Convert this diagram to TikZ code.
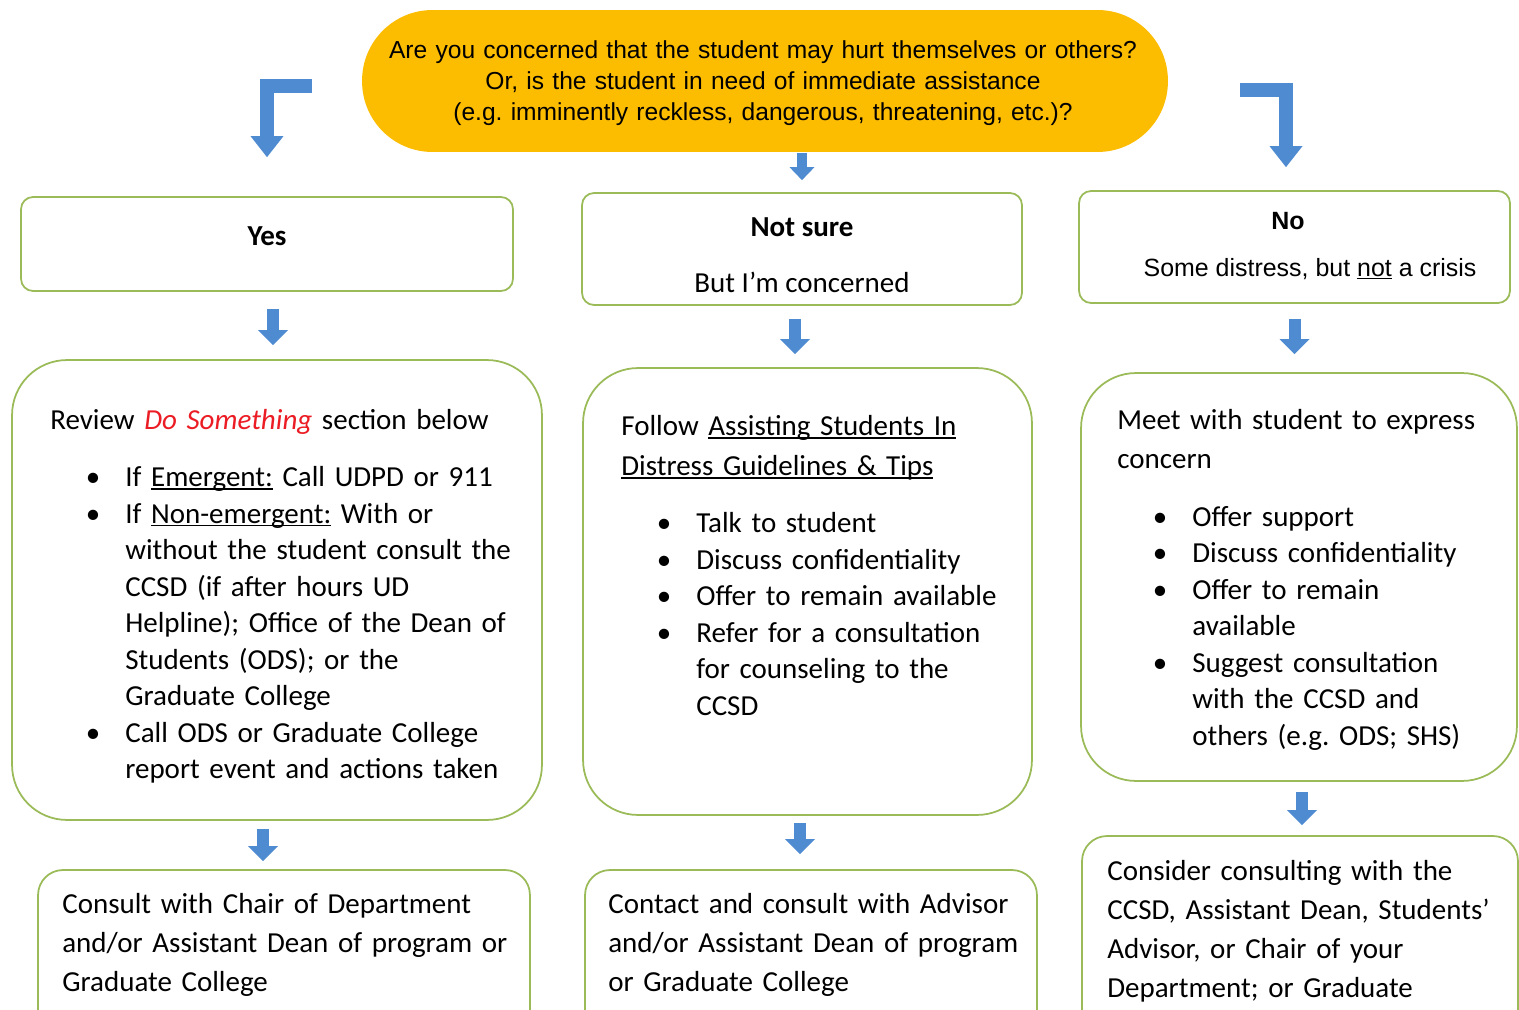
\documentclass[tikz,border=0pt]{standalone}
\usepackage{fontspec}
\setmainfont{Carlito}
\newfontfamily\arialfont{Liberation Sans}
\usepackage{tikz}
\usetikzlibrary{shapes.misc, arrows.meta}
\frenchspacing

\definecolor{boxgreen}{RGB}{155,187,89}
\definecolor{gold}{RGB}{252,188,0}
\definecolor{arrowblue}{RGB}{79,139,208}
\definecolor{dored}{RGB}{236,28,36}

% bullet list used inside the panels
\newenvironment{pointlist}{\begin{list}{\textbullet}{%
  \setlength{\leftmargin}{1.5cm}\setlength{\labelsep}{0.5cm}%
  \setlength{\labelwidth}{1cm}\setlength{\itemsep}{0pt}%
  \setlength{\parsep}{0pt}\setlength{\topsep}{0.41cm}%
  \setlength{\partopsep}{0pt}}}{\end{list}}

% underline sitting just under the baseline
\newsavebox{\undlbox}
\newcommand{\undl}[1]{\sbox{\undlbox}{#1}\rlap{\rule[-0.11em]{\wd\undlbox}{0.055em}}\usebox{\undlbox}}

\begin{document}
\begin{tikzpicture}[x=0.02cm, y=-0.02cm,
	panel/.style={draw=boxgreen, line width=1pt, fill=white},
	bodytext/.style={anchor=north west, inner sep=0pt, align=left, text width=9.8cm,
		font=\fontsize{16.5}{20.8}\selectfont},
	blockarrow/.style={draw=arrowblue, line width=0.24cm,
		-{Triangle[width=0.6cm, length=0.3cm, line width=0pt]}},
	bentarrow/.style={draw=arrowblue, line width=0.29cm,
		-{Triangle[width=0.66cm, length=0.42cm, line width=0pt]}}]
	\clip (0,0) rectangle (1519,1010);

	% question on top
	\node[fill=gold, rounded corners=1.41cm, minimum width=16.12cm, minimum height=2.84cm] (q) at (765,81) {};
	\node[text width=15.6cm, inner sep=0pt, align=center, font=\arialfont\fontsize{14}{17.6}\selectfont]
		(qtext) at (763,83) {Are you concerned that the student may hurt themselves or others?\\
		Or, is the student in need of immediate assistance\\
		(e.g. imminently reckless, dangerous, threatening, etc.)?};

	% three answers
	\node[panel, rounded corners=0.24cm, minimum width=9.84cm, minimum height=1.88cm] (yes) at (267,244) {};
	\node[panel, rounded corners=0.24cm, minimum width=8.8cm, minimum height=2.24cm] (unsure) at (802,249) {};
	\node[panel, rounded corners=0.24cm, minimum width=8.62cm, minimum height=2.24cm] (no) at (1294.5,247) {};
	\node[font=\fontsize{16.5}{20}\selectfont\bfseries] (yeslabel) at (267,236) {Yes};
	\node[font=\fontsize{16.5}{20}\selectfont\bfseries] (unsurelabel) at (802,227) {Not sure};
	\node[font=\fontsize{16.5}{20}\selectfont] (unsurenote) at (802,282) {But I’m concerned};
	\node[font=\arialfont\fontsize{14.2}{17}\selectfont\bfseries] (nolabel) at (1288,221) {No};
	\node[font=\arialfont\fontsize{14.2}{17}\selectfont] (nonote) at (1310,269) {Some distress, but \undl{not} a crisis};

	% what to do
	\node[panel, rounded corners=1.1cm, minimum width=10.6cm, minimum height=9.2cm] (review) at (277,590) {};
	\node[panel, rounded corners=1.1cm, minimum width=8.98cm, minimum height=8.94cm] (follow) at (807.5,591.5) {};
	\node[panel, rounded corners=1.1cm, minimum width=8.72cm, minimum height=8.16cm] (meet) at (1299,577) {};

	\node[bodytext] (reviewtext) at (50,409) {Review {\color{dored}\itshape Do Something} section below
		\begin{pointlist}
		\item If \undl{Emergent:} Call UDPD or 911
		\item If \undl{Non-emergent:} With or\newline without the student consult the\newline
			CCSD (if after hours UD\newline Helpline); Office of the Dean of\newline
			Students (ODS); or the\newline Graduate College
		\item Call ODS or Graduate College\newline report event and actions taken
		\end{pointlist}};
	\node[bodytext] (followtext) at (621,415) {{\baselineskip=0.8cm
		Follow \undl{Assisting Students In}\newline \undl{Distress Guidelines \& Tips}\par}
		\begin{pointlist}
		\item Talk to student
		\item Discuss confidentiality
		\item Offer to remain available
		\item Refer for a consultation\newline for counseling to the\newline CCSD
		\end{pointlist}};
	\node[bodytext] (meettext) at (1117,409) {{\baselineskip=0.79cm
		Meet with student to express\newline concern\par}
		\begin{pointlist}
		\item Offer support
		\item Discuss confidentiality
		\item Offer to remain\newline available
		\item Suggest consultation\newline with the CCSD and\newline others (e.g. ODS; SHS)
		\end{pointlist}};

	% who to consult
	\node[panel, rounded corners=0.5cm, minimum width=9.84cm, minimum height=3.8cm] (consult) at (284,965) {};
	\node[panel, rounded corners=0.5cm, minimum width=9.04cm, minimum height=3.8cm] (contact) at (811,965) {};
	\node[panel, rounded corners=0.5cm, minimum width=8.72cm, minimum height=4.48cm] (consider) at (1300,948) {};

	\node[bodytext, font=\fontsize{16.5}{22.2}\selectfont] (consulttext) at (62,893)
		{Consult with Chair of Department\newline and/or Assistant Dean of program or\newline Graduate College};
	\node[bodytext, font=\fontsize{16.5}{22.2}\selectfont] (contacttext) at (608,893)
		{Contact and consult with Advisor\newline and/or Assistant Dean of program\newline or Graduate College};
	\node[bodytext, font=\fontsize{16.5}{22.2}\selectfont] (considertext) at (1107,860)
		{Consider consulting with the\newline CCSD, Assistant Dean, Students’\newline
		Advisor, or Chair of your\newline Department; or Graduate};

	% arrows
	\draw[bentarrow, shorten >=0.78cm] ([shift={(-1cm,-0.1cm)}]q.west) -| (yes.north);
	\draw[bentarrow, shorten >=0.46cm] ([shift={(1.44cm,-0.18cm)}]q.east) -| ([xshift=-0.17cm]no.north);
	\draw[blockarrow, line width=0.2cm, -{Triangle[width=0.5cm, length=0.26cm, line width=0pt]},
		shorten <=0.02cm, shorten >=0.24cm] ([xshift=0.74cm]q.south) -- ([xshift=0.74cm]q.south |- unsure.north);
	\draw[blockarrow, shorten <=0.34cm, shorten >=0.28cm] ([xshift=0.12cm]yes.south) -- ([xshift=0.12cm]yes.south |- review.north);
	\draw[blockarrow, shorten <=0.26cm, shorten >=0.26cm] ([xshift=-0.14cm]unsure.south) -- ([xshift=-0.14cm]unsure.south |- follow.north);
	\draw[blockarrow, shorten <=0.3cm, shorten >=0.36cm] (no.south) -- (no.south |- meet.north);
	\draw[blockarrow, shorten <=0.16cm, shorten >=0.16cm] ([xshift=-0.28cm]review.south) -- ([xshift=-0.28cm]review.south |- consult.north);
	\draw[blockarrow, shorten <=0.14cm, shorten >=0.3cm] ([xshift=-0.15cm]follow.south) -- ([xshift=-0.15cm]follow.south |- contact.north);
	\draw[blockarrow, shorten <=0.2cm, shorten >=0.2cm] ([xshift=0.06cm]meet.south) -- ([xshift=0.06cm]meet.south |- consider.north);
\end{tikzpicture}
\end{document}
